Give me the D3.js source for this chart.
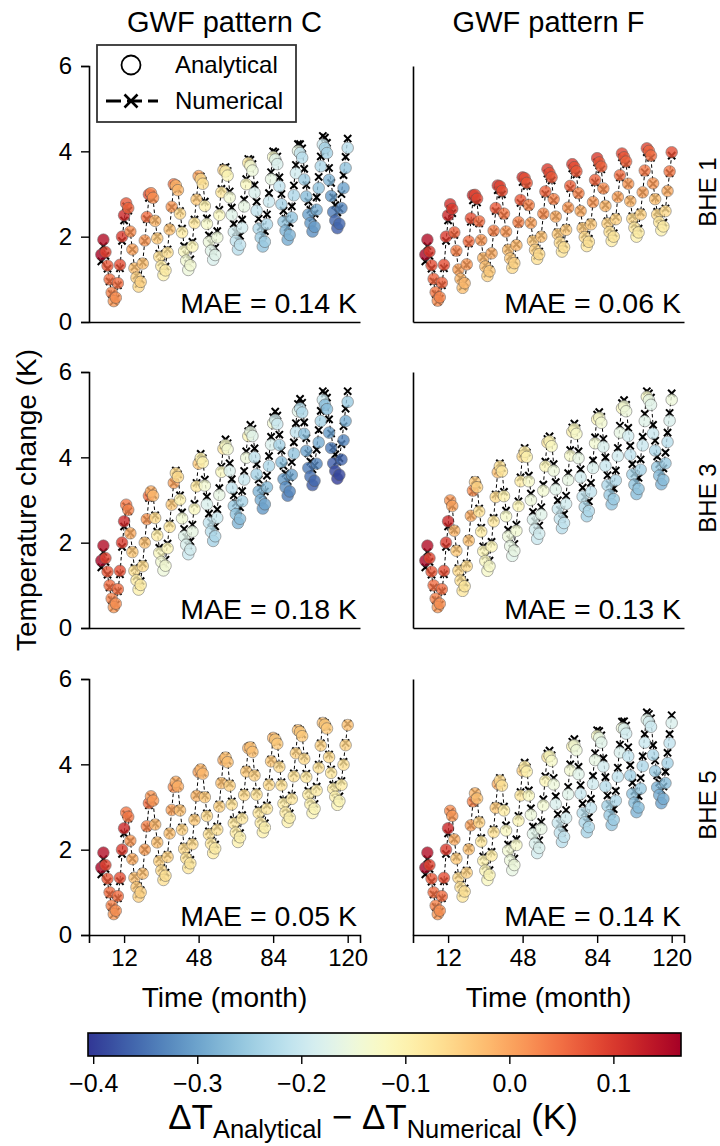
<!DOCTYPE html>
<html>
<head>
<meta charset="utf-8">
<script src="https://cdn.jsdelivr.net/npm/d3@7"></script>
<style>
  body { margin: 0; background: #fff; }
  text { font-family: "Liberation Sans", Arial, sans-serif; fill: #000; }
</style>
</head>
<body>
<div id="chart"></div>
<script>
// month index of every sample (1..120)
var months = d3.range(1, 121);

// column / row titles
var colTitles = ["GWF pattern C", "GWF pattern F"];
var rowTitles = ["BHE 1", "BHE 3", "BHE 5"];
var maeLabels = [["0.14", "0.06"], ["0.18", "0.13"], ["0.05", "0.14"]];
var yTicks = [0, 2, 4, 6];
var xTicks = [12, 48, 84, 120];
var cbTicks = [-0.4, -0.3, -0.2, -0.1, 0.0, 0.1];
var cbDomain = [-0.405, 0.165];

// numerical temperature change (K), one row per year
var numC1 = [
  1.42,1.78,1.55,1.25,0.95,0.66,0.48,0.55,0.86,1.26,1.90,2.38,
  2.71,2.61,2.10,1.70,1.29,1.09,0.89,0.99,1.40,1.90,2.41,2.91,
  2.99,2.89,2.39,2.00,1.60,1.40,1.20,1.30,1.70,2.20,2.69,3.19,
  3.22,3.11,2.60,2.19,1.78,1.58,1.37,1.47,1.88,2.40,2.91,3.42,
  3.41,3.31,2.82,2.43,2.03,1.84,1.64,1.74,2.13,2.63,3.12,3.61,
  3.63,3.54,3.06,2.68,2.30,2.11,1.92,2.02,2.40,2.87,3.35,3.82,
  3.80,3.70,3.21,2.82,2.42,2.23,2.03,2.13,2.52,3.02,3.51,4.00,
  3.98,3.88,3.39,3.00,2.61,2.42,2.22,2.32,2.71,3.20,3.68,4.17,
  4.17,4.07,3.59,3.21,2.82,2.63,2.44,2.54,2.92,3.40,3.88,4.36,
  4.32,4.20,3.61,3.26,2.92,2.74,2.57,2.66,3.00,3.44,3.87,4.30
];
// analytical minus numerical (K)
var diffC1 = [
  .16,.15,.09,.07,.05,.03,.01,.02,.05,.08,.10,.12,
  .07,.06,.02,0,-.03,-.05,-.06,-.05,-.03,.01,.05,.08,
  .03,.02,-.02,-.04,-.07,-.09,-.10,-.09,-.07,-.03,.01,.04,
  -.02,-.02,-.06,-.09,-.12,-.14,-.15,-.14,-.11,-.08,-.04,0,
  -.06,-.07,-.10,-.13,-.15,-.17,-.18,-.17,-.15,-.12,-.08,-.05,
  -.10,-.11,-.14,-.17,-.19,-.21,-.22,-.21,-.19,-.16,-.12,-.09,
  -.14,-.15,-.18,-.21,-.23,-.25,-.26,-.25,-.23,-.20,-.16,-.13,
  -.17,-.18,-.21,-.24,-.26,-.28,-.29,-.28,-.26,-.23,-.19,-.16,
  -.21,-.22,-.25,-.27,-.30,-.31,-.32,-.31,-.29,-.26,-.23,-.20,
  -.24,-.24,-.28,-.31,-.34,-.36,-.37,-.36,-.33,-.30,-.26,-.22
];

var numF1 = [
  1.42,1.78,1.55,1.25,0.95,0.66,0.48,0.55,0.86,1.26,1.90,2.38,
  2.65,2.55,2.04,1.64,1.23,1.03,0.83,0.93,1.34,1.84,2.35,2.85,
  2.89,2.80,2.31,1.91,1.52,1.33,1.13,1.23,1.62,2.11,2.60,3.09,
  3.09,2.99,2.50,2.11,1.72,1.53,1.33,1.43,1.82,2.31,2.79,3.28,
  3.29,3.19,2.71,2.32,1.94,1.74,1.55,1.65,2.03,2.52,3.00,3.48,
  3.41,3.32,2.85,2.48,2.10,1.92,1.73,1.82,2.20,2.67,3.13,3.60,
  3.55,3.46,2.99,2.61,2.24,2.05,1.86,1.95,2.33,2.80,3.27,3.74,
  3.67,3.58,3.11,2.74,2.36,2.18,1.99,2.08,2.46,2.93,3.39,3.86,
  3.79,3.70,3.23,2.85,2.48,2.29,2.10,2.19,2.57,3.04,3.51,3.98,
  3.95,3.85,3.24,2.91,2.58,2.42,2.25,2.33,2.66,3.08,3.49,3.90
];
var diffF1 = [
  .16,.15,.10,.08,.06,.04,.02,.03,.06,.08,.10,.12,
  .11,.10,.06,.03,0,-.02,-.03,-.02,.01,.05,.08,.12,
  .09,.09,.05,.01,-.02,-.03,-.05,-.04,-.01,.03,.07,.11,
  .09,.08,.04,.01,-.03,-.04,-.06,-.05,-.02,.03,.07,.11,
  .08,.07,.03,0,-.04,-.05,-.07,-.06,-.03,.02,.06,.10,
  .08,.07,.03,-.01,-.04,-.06,-.08,-.07,-.04,.01,.06,.10,
  .08,.07,.03,-.01,-.04,-.06,-.08,-.07,-.04,.01,.06,.10,
  .07,.06,.02,-.02,-.05,-.07,-.09,-.08,-.05,0,.05,.09,
  .07,.06,.01,-.02,-.06,-.08,-.10,-.09,-.05,0,.04,.09,
  .06,.05,.01,-.03,-.06,-.08,-.10,-.09,-.06,-.01,.04,.08
];

var numC3 = [
  1.42,1.78,1.55,1.25,0.95,0.66,0.48,0.55,0.86,1.26,1.90,2.38,
  2.85,2.74,2.23,1.82,1.41,1.21,1.00,1.10,1.51,2.03,2.54,3.05,
  3.21,3.12,2.64,2.26,1.88,1.69,1.50,1.60,1.98,2.45,2.93,3.40,
  3.69,3.60,3.11,2.71,2.32,2.13,1.93,2.03,2.42,2.91,3.40,3.89,
  4.08,3.98,3.48,3.08,2.68,2.48,2.28,2.38,2.78,3.28,3.78,4.28,
  4.42,4.33,3.86,3.49,3.11,2.93,2.74,2.83,3.21,3.68,4.14,4.61,
  4.76,4.67,4.21,3.84,3.48,3.29,3.11,3.20,3.57,4.03,4.48,4.94,
  5.07,4.98,4.53,4.16,3.80,3.62,3.44,3.53,3.89,4.35,4.80,5.25,
  5.37,5.28,4.82,4.45,4.09,3.90,3.72,3.81,4.18,4.64,5.09,5.55,
  5.50,5.40,4.89,4.56,4.23,4.07,3.90,3.98,4.31,4.73,5.14,5.55
];
var diffC3 = [
  .16,.15,.09,.07,.05,.03,.01,.02,.05,.08,.10,.12,
  .04,.03,-.01,-.04,-.07,-.09,-.10,-.09,-.06,-.03,.01,.05,
  -.01,-.02,-.06,-.09,-.12,-.14,-.15,-.14,-.11,-.08,-.04,0,
  -.06,-.06,-.10,-.14,-.17,-.18,-.20,-.19,-.16,-.12,-.08,-.04,
  -.10,-.10,-.14,-.18,-.21,-.22,-.24,-.23,-.20,-.16,-.12,-.08,
  -.13,-.14,-.18,-.21,-.25,-.26,-.28,-.27,-.24,-.20,-.15,-.11,
  -.16,-.17,-.21,-.24,-.28,-.29,-.31,-.30,-.27,-.23,-.18,-.14,
  -.19,-.20,-.24,-.27,-.31,-.32,-.34,-.33,-.30,-.26,-.21,-.17,
  -.22,-.23,-.27,-.30,-.34,-.35,-.37,-.36,-.33,-.29,-.24,-.20,
  -.27,-.27,-.31,-.34,-.37,-.39,-.40,-.39,-.36,-.33,-.29,-.25
];

var numF3 = [
  1.42,1.78,1.55,1.25,0.95,0.66,0.48,0.55,0.86,1.26,1.90,2.38,
  2.98,2.86,2.30,1.85,1.40,1.18,0.95,1.06,1.51,2.08,2.64,3.20,
  3.46,3.35,2.80,2.35,1.91,1.69,1.47,1.58,2.02,2.58,3.13,3.68,
  3.86,3.75,3.19,2.75,2.30,2.08,1.86,1.97,2.42,2.97,3.53,4.08,
  4.22,4.11,3.57,3.15,2.72,2.50,2.29,2.40,2.83,3.36,3.90,4.43,
  4.49,4.38,3.84,3.42,2.99,2.77,2.56,2.67,3.10,3.63,4.17,4.70,
  4.79,4.68,4.14,3.72,3.29,3.07,2.86,2.97,3.40,3.93,4.47,5.00,
  5.06,4.95,4.43,4.00,3.58,3.37,3.16,3.27,3.69,4.22,4.74,5.27,
  5.34,5.23,4.69,4.27,3.84,3.62,3.41,3.52,3.95,4.48,5.02,5.55,
  5.50,5.40,4.76,4.39,4.02,3.84,3.65,3.74,4.11,4.58,5.04,5.50
];
var diffF3 = [
  .16,.15,.09,.07,.05,.03,.01,.02,.05,.08,.10,.12,
  .01,0,-.02,-.04,-.06,-.07,-.08,-.08,-.06,-.03,-.01,.02,
  -.04,-.05,-.07,-.09,-.11,-.12,-.13,-.13,-.11,-.08,-.06,-.03,
  -.07,-.08,-.10,-.13,-.15,-.16,-.17,-.16,-.14,-.11,-.09,-.06,
  -.09,-.10,-.13,-.15,-.18,-.19,-.20,-.19,-.17,-.14,-.11,-.08,
  -.11,-.12,-.15,-.17,-.20,-.21,-.22,-.21,-.19,-.16,-.13,-.10,
  -.12,-.13,-.16,-.19,-.21,-.23,-.24,-.23,-.21,-.18,-.14,-.11,
  -.13,-.14,-.18,-.20,-.23,-.25,-.26,-.25,-.23,-.19,-.16,-.12,
  -.14,-.15,-.19,-.21,-.24,-.26,-.27,-.26,-.24,-.20,-.17,-.13,
  -.16,-.17,-.20,-.23,-.25,-.27,-.28,-.27,-.25,-.22,-.18,-.15
];

var numC5 = [
  1.42,1.78,1.55,1.25,0.95,0.66,0.48,0.55,0.86,1.26,1.90,2.38,
  2.83,2.73,2.20,1.79,1.37,1.16,0.95,1.05,1.47,2.00,2.52,3.04,
  3.24,3.14,2.61,2.20,1.78,1.57,1.36,1.46,1.88,2.41,2.93,3.45,
  3.60,3.49,2.95,2.52,2.08,1.87,1.65,1.76,2.19,2.74,3.28,3.82,
  3.90,3.80,3.27,2.85,2.43,2.22,2.01,2.12,2.54,3.06,3.59,4.11,
  4.19,4.08,3.55,3.13,2.70,2.49,2.28,2.39,2.81,3.34,3.87,4.40,
  4.43,4.32,3.79,3.36,2.94,2.72,2.51,2.62,3.04,3.58,4.11,4.64,
  4.62,4.52,4.00,3.58,3.17,2.96,2.75,2.85,3.27,3.79,4.31,4.83,
  4.80,4.70,4.19,3.78,3.38,3.17,2.97,3.07,3.48,3.99,4.49,5.00,
  4.97,4.88,4.23,3.88,3.52,3.34,3.16,3.25,3.61,4.06,4.50,4.95
];
var diffC5 = [
  .16,.15,.09,.07,.05,.03,.01,.02,.05,.08,.10,.12,
  .04,.04,.01,-.01,-.03,-.04,-.05,-.05,-.03,0,.03,.05,
  .01,.01,-.02,-.03,-.05,-.06,-.07,-.07,-.05,-.03,0,.02,
  -.01,-.01,-.03,-.05,-.06,-.07,-.08,-.08,-.06,-.04,-.02,0,
  -.02,-.02,-.04,-.06,-.07,-.08,-.09,-.09,-.07,-.05,-.03,-.01,
  -.03,-.03,-.05,-.07,-.08,-.09,-.10,-.10,-.08,-.06,-.04,-.02,
  -.03,-.03,-.05,-.07,-.08,-.09,-.10,-.10,-.08,-.06,-.04,-.02,
  -.04,-.04,-.06,-.07,-.09,-.09,-.10,-.10,-.08,-.07,-.05,-.03,
  -.04,-.04,-.06,-.08,-.09,-.10,-.11,-.11,-.09,-.07,-.05,-.03,
  -.04,-.04,-.06,-.08,-.09,-.10,-.11,-.11,-.09,-.07,-.05,-.03
];

var numF5 = [
  1.42,1.78,1.55,1.25,0.95,0.66,0.48,0.55,0.86,1.26,1.90,2.38,
  2.89,2.78,2.25,1.83,1.40,1.19,0.98,1.09,1.51,2.04,2.57,3.10,
  3.34,3.23,2.69,2.27,1.84,1.62,1.41,1.52,1.95,2.48,3.02,3.55,
  3.68,3.57,3.01,2.57,2.12,1.90,1.68,1.79,2.24,2.79,3.35,3.90,
  4.04,3.93,3.39,2.97,2.54,2.32,2.11,2.22,2.65,3.18,3.72,4.25,
  4.32,4.21,3.68,3.25,2.83,2.61,2.40,2.51,2.93,3.47,4.00,4.53,
  4.59,4.48,3.94,3.51,3.08,2.87,2.65,2.76,3.19,3.73,4.26,4.80,
  4.78,4.68,4.14,3.70,3.27,3.06,2.84,2.95,3.38,3.92,4.46,5.00,
  5.01,4.91,4.40,3.98,3.57,3.37,3.16,3.26,3.68,4.19,4.71,5.22,
  5.18,5.08,4.45,4.09,3.74,3.57,3.39,3.48,3.83,4.27,4.71,5.15
];
var diffF5 = [
  .16,.15,.09,.07,.05,.03,.01,.02,.05,.08,.10,.12,
  .02,.01,-.01,-.04,-.06,-.07,-.08,-.07,-.05,-.03,0,.03,
  -.02,-.03,-.05,-.08,-.10,-.11,-.12,-.11,-.09,-.07,-.04,-.01,
  -.06,-.07,-.09,-.12,-.14,-.15,-.16,-.15,-.13,-.11,-.08,-.05,
  -.09,-.10,-.12,-.15,-.17,-.18,-.19,-.18,-.16,-.14,-.11,-.08,
  -.12,-.13,-.15,-.18,-.20,-.21,-.22,-.21,-.19,-.17,-.14,-.11,
  -.14,-.15,-.17,-.20,-.22,-.23,-.24,-.23,-.21,-.19,-.16,-.13,
  -.16,-.17,-.19,-.22,-.24,-.25,-.26,-.25,-.23,-.21,-.18,-.15,
  -.18,-.19,-.21,-.24,-.26,-.27,-.28,-.27,-.25,-.23,-.20,-.17,
  -.19,-.20,-.23,-.25,-.28,-.29,-.30,-.29,-.27,-.24,-.21,-.18
];

var panels = [
  {row: 0, col: 0, num: numC1, diff: diffC1},
  {row: 0, col: 1, num: numF1, diff: diffF1},
  {row: 1, col: 0, num: numC3, diff: diffC3},
  {row: 1, col: 1, num: numF3, diff: diffF3},
  {row: 2, col: 0, num: numC5, diff: diffC5},
  {row: 2, col: 1, num: numF5, diff: diffF5}
];

// layout
var svgWidth = 720, svgHeight = 1146;
var colLeft = [89, 413];
var rowTop = [66, 372, 679];
var panelW = 271, panelH = 256;
var tickFont = 24;

var svg = d3.select("#chart").append("svg")
  .attr("width", svgWidth)
  .attr("height", svgHeight);

var xScale = d3.scaleLinear().domain([-4.95, 125.95]).range([0, panelW]);
var yScale = d3.scaleLinear().domain([0, 6]).range([panelH, 0]);
var color = d3.scaleSequential(t => d3.interpolateRdYlBu(1 - t)).domain(cbDomain);

var crossPath = "M-3.6,-3.6L3.6,3.6M-3.6,3.6L3.6,-3.6";

panels.forEach(function(p) {
  var g = svg.append("g")
    .attr("transform", `translate(${colLeft[p.col]}, ${rowTop[p.row]})`);

  var pts = months.map(function(m, i) {
    return {m: m, num: p.num[i], ana: p.num[i] + p.diff[i], diff: p.diff[i]};
  });

  // left spine + ticks
  var leftAxis = d3.axisLeft(yScale).tickValues(yTicks).tickSizeOuter(0)
    .tickSize(p.col === 0 ? 8 : 0)
    .tickFormat(p.col === 0 ? d3.format("d") : "");
  var ya = g.append("g").call(leftAxis);
  ya.select(".domain").attr("stroke-width", 1.6);
  ya.selectAll(".tick line").attr("stroke-width", 1.4);
  ya.selectAll(".tick text").attr("font-size", tickFont).attr("x", -17)
    .attr("font-family", "Liberation Sans, Arial, sans-serif");

  // bottom spine (+ ticks on the last row)
  var bottomAxis = d3.axisBottom(xScale).tickValues(xTicks).tickSizeOuter(0)
    .tickSize(p.row === 2 ? 8 : 0)
    .tickFormat(p.row === 2 ? d3.format("d") : "");
  var xa = g.append("g").attr("transform", `translate(0, ${panelH})`).call(bottomAxis);
  xa.select(".domain").attr("stroke-width", 1.6);
  xa.selectAll(".tick line").attr("stroke-width", 1.4);
  xa.selectAll(".tick text").attr("font-size", tickFont).attr("y", 14)
    .attr("font-family", "Liberation Sans, Arial, sans-serif");

  // numerical: dashed line with x markers
  var line = d3.line().x(d => xScale(d.m)).y(d => yScale(d.num));
  g.append("path").datum(pts)
    .attr("d", line)
    .attr("fill", "none")
    .attr("stroke", "#000")
    .attr("stroke-width", 1)
    .attr("stroke-dasharray", "3.5,2.5");
  g.selectAll("path.num").data(pts).enter().append("path")
    .attr("class", "num")
    .attr("transform", d => `translate(${xScale(d.m)}, ${yScale(d.num)})`)
    .attr("d", crossPath)
    .attr("stroke", "#000")
    .attr("stroke-width", 2);

  // analytical: circles coloured by the difference
  g.selectAll("circle.ana").data(pts).enter().append("circle")
    .attr("class", "ana")
    .attr("cx", d => xScale(d.m))
    .attr("cy", d => yScale(d.ana))
    .attr("r", 5.8)
    .attr("fill", d => color(d.diff))
    .attr("stroke", "#555")
    .attr("stroke-width", 0.6)
    .attr("opacity", 0.8);

  // MAE annotation
  g.append("text")
    .attr("x", panelW - 3)
    .attr("y", panelH - 9)
    .attr("text-anchor", "end")
    .attr("font-size", 28.5)
    .text(`MAE = ${maeLabels[p.row][p.col]} K`);
});

// column titles
colTitles.forEach(function(t, i) {
  svg.append("text")
    .attr("x", colLeft[i] + panelW / 2)
    .attr("y", 32)
    .attr("text-anchor", "middle")
    .attr("font-size", 29)
    .text(t);
});

// row titles on the right
rowTitles.forEach(function(t, i) {
  svg.append("text")
    .attr("transform", `translate(716, ${rowTop[i] + panelH / 2 - 2}) rotate(-90)`)
    .attr("text-anchor", "middle")
    .attr("font-size", 24)
    .text(t);
});

// y label
svg.append("text")
  .attr("transform", `translate(36, ${rowTop[1] + panelH / 2}) rotate(-90)`)
  .attr("text-anchor", "middle")
  .attr("font-size", 28)
  .text("Temperature change (K)");

// x labels
colLeft.forEach(function(x0) {
  svg.append("text")
    .attr("x", x0 + panelW / 2)
    .attr("y", 1007)
    .attr("text-anchor", "middle")
    .attr("font-size", 28)
    .text("Time (month)");
});

// legend
var legend = svg.append("g");
legend.append("rect")
  .attr("x", 97).attr("y", 45).attr("width", 199).attr("height", 77)
  .attr("fill", "#fff").attr("stroke", "#333").attr("stroke-width", 1.8);
legend.append("circle")
  .attr("cx", 131).attr("cy", 65).attr("r", 9.5)
  .attr("fill", "none").attr("stroke", "#000").attr("stroke-width", 1.8);
legend.append("text").attr("x", 175).attr("y", 73).attr("font-size", 24).text("Analytical");
legend.append("line")
  .attr("x1", 106).attr("x2", 158).attr("y1", 101).attr("y2", 101)
  .attr("stroke", "#000").attr("stroke-width", 2.8).attr("stroke-dasharray", "15,6");
legend.append("path")
  .attr("transform", "translate(131, 101)")
  .attr("d", "M-6.5,-6.5L6.5,6.5M-6.5,6.5L6.5,-6.5")
  .attr("stroke", "#000").attr("stroke-width", 2.6);
legend.append("text").attr("x", 175).attr("y", 109).attr("font-size", 24).text("Numerical");

// colour bar
var cbX0 = 88, cbX1 = 681, cbY = 1033, cbH = 23;
var cbScale = d3.scaleLinear().domain(cbDomain).range([cbX0, cbX1]);
var defs = svg.append("defs");
var grad = defs.append("linearGradient").attr("id", "cbGrad")
  .attr("x1", "0%").attr("x2", "100%").attr("y1", "0%").attr("y2", "0%");
d3.range(0, 1.0001, 0.02).forEach(function(t) {
  grad.append("stop")
    .attr("offset", (t * 100) + "%")
    .attr("stop-color", d3.interpolateRdYlBu(1 - t));
});
svg.append("rect")
  .attr("x", cbX0).attr("y", cbY).attr("width", cbX1 - cbX0).attr("height", cbH)
  .attr("fill", "url(#cbGrad)").attr("stroke", "#000").attr("stroke-width", 1.6);
var cbAxis = svg.append("g")
  .attr("transform", `translate(0, ${cbY + cbH})`)
  .call(d3.axisBottom(cbScale).tickValues(cbTicks).tickSizeOuter(0).tickSize(8)
    .tickFormat(d3.format(".1f")));
cbAxis.select(".domain").remove();
cbAxis.selectAll(".tick line").attr("stroke-width", 1.4);
cbAxis.selectAll(".tick text").attr("font-size", 25).attr("y", 18)
  .attr("font-family", "Liberation Sans, Arial, sans-serif");

// colour bar label (math text look)
var cbLabel = svg.append("text")
  .attr("x", 373)
  .attr("y", 1129)
  .attr("text-anchor", "middle")
  .attr("font-family", "DejaVu Sans, sans-serif")
  .attr("font-size", 35);
cbLabel.append("tspan").text("ΔT");
cbLabel.append("tspan").attr("font-size", 25.5).attr("dy", 9).text("Analytical");
cbLabel.append("tspan").attr("dy", -9).text(" − ΔT");
cbLabel.append("tspan").attr("font-size", 25.5).attr("dy", 9).text("Numerical");
cbLabel.append("tspan").attr("dy", -9).text(" (K)");
</script>
</body>
</html>
